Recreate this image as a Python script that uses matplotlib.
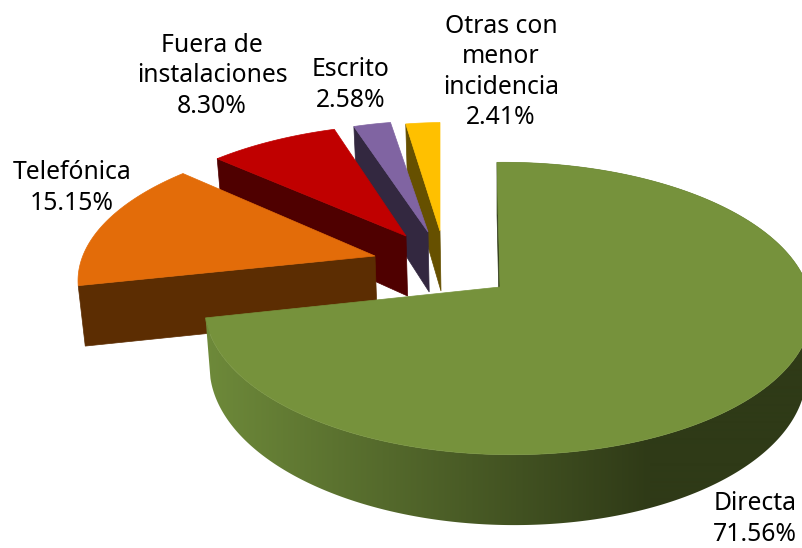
import numpy as np
import matplotlib
matplotlib.use("Agg")
import matplotlib.pyplot as plt
from matplotlib.colors import to_rgb
from matplotlib.patches import Polygon

# datos del grafico
canales = ["Directa", "Telefónica", "Fuera de\ninstalaciones", "Escrito", "Otras con\nmenor\nincidencia"]
porcentajes = [71.56, 15.15, 8.30, 2.58, 2.41]

colores = ["#76923C", "#E36C09", "#C00000", "#8064A2", "#FFC000"]
laterales = ["#2F3A17", "#5C2D02", "#4F0000", "#332840", "#665000"]

# posicion de cada porcion (vertice en pixeles, radio, inclinacion, escala en x)
centros = [(500, 287), (375, 256), (406, 236), (428, 232), (440, 231)]
radios = [1.0, 0.96, 0.9, 0.89, 0.87]
inclina = [-3, 10, 7, -2.5, 0]
escala_x = [1, 1.04, 1.08, 1, 1]
pos_texto = [(755, 519), (72, 188), (212, 76), (351, 85), (501, 72)]

A, B = 300.0, 143.0   # semiejes
P, Q = 0.147, -0.025  # perspectiva
ALTO = 60.0
FUGA = 0.0167         # las paredes convergen hacia abajo


def proyectar(ang, i, z=0.0):
    c = centros[i]
    x = np.sin(ang)
    y = np.cos(ang)
    w = 1 + P * y + Q * x
    r = radios[i]
    px = c[0] + r * A * escala_x[i] * x / w + inclina[i] * y
    py = c[1] - r * B * y / w + z * np.ones_like(x) / w
    px = px + (500 - px) * FUGA * z / ALTO
    return px, py


def tapa(ini, fin, i):
    ang = np.linspace(ini, fin, 200)
    px, py = proyectar(ang, i)
    return np.vstack([centros[i], np.column_stack([px, py])])


def pared(ang, i):
    c = centros[i]
    p0 = proyectar(np.array(ang), i)
    p1 = proyectar(np.array(ang), i, ALTO)
    abajo = (c[0] + (500 - c[0]) * FUGA, c[1] + ALTO)
    return [c, p0, p1, abajo]


fig = plt.figure(figsize=(8.02, 5.48), dpi=100)
ax = fig.add_axes([0, 0, 1, 1])

fin = 2 * np.pi * np.cumsum(porcentajes) / 100
ini = np.concatenate([[0], fin[:-1]])

# se dibuja de atras hacia adelante
z = 1
for i in range(len(canales) - 1, 0, -1):
    ax.add_patch(Polygon(pared(ini[i], i), closed=True, fc=laterales[i], ec=laterales[i], lw=0.5, zorder=z))
    ax.add_patch(Polygon(tapa(ini[i], fin[i], i), closed=True, fc=colores[i], ec=colores[i], lw=0.5, zorder=z + 1))
    z += 2

# porcion principal: cara interior, borde con degradado y tapa
ax.add_patch(Polygon(pared(0.0, 0), closed=True, fc=laterales[0], ec=laterales[0], lw=0.5, zorder=z))

ang = np.linspace(0, fin[0], 500)
px, py = proyectar(ang, 0)
qx, qy = proyectar(ang, 0, ALTO)
borde = np.vstack([np.column_stack([px, py]), np.column_stack([qx, qy])[::-1]])

t = np.clip((np.arange(802) + 0.5 - 205) / 445, 0, 1)[:, None]
claro = np.array(to_rgb("#6E8A3A"))
oscuro = np.array(to_rgb(laterales[0]))
grad = (claro * (1 - t) + oscuro * t)[None, :, :]
img = ax.imshow(grad, extent=(0, 802, 548, 0), aspect="auto", interpolation="bilinear", zorder=z + 1)
img.set_clip_path(Polygon(borde, closed=True, transform=ax.transData))

ax.add_patch(Polygon(tapa(0, fin[0], 0), closed=True, fc=colores[0], ec=colores[0], lw=0.5, zorder=z + 2))

ax.set_xlim(0, 802)
ax.set_ylim(548, 0)
ax.axis("off")

for nombre, valor, (tx, ty) in zip(canales, porcentajes, pos_texto):
    ax.text(tx, ty, f"{nombre}\n{valor:.2f}%", ha="center", va="center", fontsize=17.8,
            family="Noto Sans", color="black", linespacing=1.27, zorder=z + 3)

fig.savefig("out.png", dpi=100)
